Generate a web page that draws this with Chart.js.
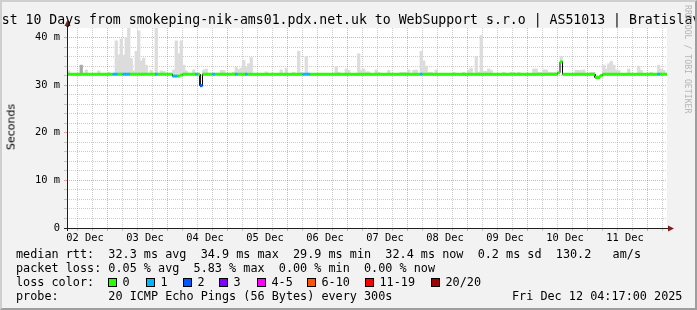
<!DOCTYPE html>
<html>
<head>
<meta charset="utf-8">
<title>smokeping 10 days</title>
<script src="https://cdn.jsdelivr.net/npm/chart.js@4.4.1/dist/chart.umd.min.js"></script>
<style>
  html, body { margin: 0; padding: 0; background: #f2f2f2; }
  #frame { position: relative; width: 697px; height: 310px; overflow: hidden; background: #f2f2f2;
           font-family: 'DejaVu Sans Mono', monospace; color: #000; }
  #frame canvas { position: absolute; left: 0; top: 0; }
  .shade { position: absolute; left: 0; top: 0; width: 697px; height: 310px; box-sizing: border-box;
           border: 2px solid; border-color: #cfcfcf #9e9e9e #9e9e9e #cfcfcf; pointer-events: none; }
  .title { position: absolute; left: -14.2px; top: 12px; font-size: 13.2px; line-height: 15px; white-space: pre; }
  .ytitle { position: absolute; left: 11px; top: 127px; font-family: 'DejaVu Sans', sans-serif; font-size: 11px;
            color: #000; transform: translate(-50%, -50%) rotate(-90deg); white-space: nowrap; }
  .stamp { position: absolute; left: 692px; top: 5px; font-size: 8.2px; line-height: 9px; color: #b4b4b4;
           transform-origin: 0 0; transform: rotate(90deg); white-space: pre; }
  .row { position: absolute; left: 16px; font-size: 11.8px; line-height: 14px; white-space: pre; }
  .sw { position: absolute; top: 278px; width: 9px; height: 9px; box-sizing: border-box; border: 1px solid #000; }
</style>
</head>
<body>
<div id="frame">
  <canvas id="chart" width="697" height="310"></canvas>
  <div class="title">Last 10 Days from smokeping-nik-ams01.pdx.net.uk to WebSupport s.r.o | AS51013 | Bratislava</div>
  <div class="ytitle">Seconds</div>
  <div class="stamp">RRDTOOL / TOBI OETIKER</div>
  <div class="row" style="top:247px">median rtt:  32.3 ms avg  34.9 ms max  29.9 ms min  32.4 ms now  0.2 ms sd  130.2   am/s</div>
  <div class="row" style="top:261px">packet loss: 0.05 % avg  5.83 % max  0.00 % min  0.00 % now</div>
  <div class="row" style="top:275px">loss color:</div>
  <div id="losskey"></div>
  <div class="row" style="top:289px">probe:       20 ICMP Echo Pings (56 Bytes) every 300s</div>
  <div class="row" style="top:289px; left:512px">Fri Dec 12 04:17:00 2025</div>
  <div class="shade"></div>
</div>
<script>
// x axis is in hours after 02 Dec 00:00, one smoke/median slot per hour
const dayLabels = ['02 Dec', '03 Dec', '04 Dec', '05 Dec', '06 Dec', '07 Dec', '08 Dec', '09 Dec', '10 Dec', '11 Dec'];
const yTickValues = [0, 10, 20, 30, 40];
const yTickLabels = ['0', '10 m', '20 m', '30 m', '40 m'];

// median rtt (ms): flat value, plus the slots where it moved
const baseMedian = 32.3;
const medianSlot = [47, 48, 49, 50, 58, 201, 202, 216, 217, 218];
const medianValue = [31.9, 31.9, 31.9, 32.1, 29.9, 32.6, 34.9, 31.6, 31.6, 32.0];

// slots with packet loss (index into lossColors)
const lossSlot = [23, 24, 27, 28, 29, 40, 47, 48, 56, 58, 63, 72, 76, 99, 100, 101, 146, 241];
const lossLevel = [1, 1, 1, 1, 1, 1, 1, 1, 1, 2, 1, 1, 1, 1, 1, 1, 1, 1];

// smoke: highest ping in each slot (ms)
const smokeSlot = [5, 12, 17, 21, 24, 25, 26, 27, 28, 29, 30, 31, 32, 33, 34, 35, 36, 38, 40, 42, 43,
  47, 48, 49, 50, 51, 52, 55, 59, 60, 66, 67, 71, 72, 73, 74, 75, 76, 77, 78, 84, 90, 92, 95, 97, 98, 100,
  112, 113, 116, 117, 121, 122, 123, 124, 125, 128, 129, 133, 138, 139, 140, 141, 143, 144, 146, 147, 148,
  149, 150, 152, 159, 163, 165, 166, 168, 169, 170, 171, 172, 173, 174, 179, 182, 183, 185, 191, 192, 193,
  194, 195, 196, 197, 198, 199, 200, 202, 208, 209, 210, 211, 214, 215, 219, 220, 221, 222, 223, 224, 225,
  229, 233, 234, 238, 241, 242, 243];
const smokeTop = [33.0, 33.2, 33.0, 32.7, 39.3, 36.4, 39.7, 36.3, 40.0, 42.0, 35.6, 33.0, 37.1, 41.4, 35.1, 35.7, 34.2, 33.1, 42.0, 33.0, 32.9,
  33.2, 39.3, 36.6, 39.3, 34.2, 33.0, 33.2, 33.2, 33.4, 33.1, 33.1, 32.7, 33.8, 33.3, 33.6, 35.2, 33.8, 34.5, 35.8, 32.8, 33.2, 33.6, 32.7, 37.1, 32.7, 36.0,
  33.9, 32.7, 33.4, 33.1, 36.6, 33.1, 33.4, 32.8, 32.8, 33.2, 32.7, 33.1, 32.7, 32.7, 32.7, 33.2, 33.1, 33.2, 37.1, 35.1, 34.0,
  32.7, 32.7, 33.2, 32.7, 32.7, 33.2, 33.6, 36.0, 32.7, 40.4, 32.9, 32.9, 33.4, 33.1, 32.7, 32.7, 32.7, 32.7, 33.4, 33.4, 32.7,
  32.7, 33.2, 33.2, 32.7, 32.7, 32.7, 32.7, 36.0, 33.1, 33.1, 33.1, 33.2, 32.7, 32.7, 34.2, 33.4, 34.5, 35.0, 34.2, 33.2, 33.1,
  33.4, 34.0, 33.1, 32.7, 34.2, 33.3, 33.1];
// denser smoke
const darkSlot = [10];
const darkTop = [34.2];

const lossLabels = ['0', '1', '2', '3', '4-5', '6-10', '11-19', '20/20'];
const lossColors = ['#26ff00', '#00b8ff', '#0059ff', '#7e00ff', '#ff00ff', '#ff5500', '#ff0000', '#a10000'];

const GRID = 'rgba(143, 143, 143, 0.45)';
const MGRID = 'rgba(222, 79, 79, 0.5)';
const AXIS = '#1f1f1f';
const ARROW = '#801f1f';
const FONT = "'DejaVu Sans Mono', monospace";
const FIRST_SLOT = 4, LAST_SLOT = 244;

function medianAt(k) { const i = medianSlot.indexOf(k); return i < 0 ? baseMedian : medianValue[i]; }
function lossAt(k) { const i = lossSlot.indexOf(k); return i < 0 ? 0 : lossLevel[i]; }

// join equal slots into runs
const runs = [];
for (let k = FIRST_SLOT; k <= LAST_SLOT; k++) {
    const m = medianAt(k), l = lossAt(k);
    const last = runs[runs.length - 1];
    if (last && last.m === m && last.l === l) last.end = k + 1;
    else runs.push({ start: k, end: k + 1, m, l });
}
const linePts = [], lineLoss = [], stepPts = [];
runs.forEach((r, i) => {
    linePts.push({ x: r.start, y: r.m }, { x: r.end, y: r.m });
    lineLoss.push(r.l, r.l);
    const next = runs[i + 1];
    if (next && next.m !== r.m) { linePts.push({ x: r.end, y: null }); lineLoss.push(r.l); }
    stepPts.push({ x: r.start, y: r.m }, { x: r.end, y: r.m });
});
const smokePts = smokeSlot.map((k, i) => ({ x: k + 0.5, y: [medianAt(k), smokeTop[i]] }));
const darkPts = darkSlot.map((k, i) => ({ x: k + 0.5, y: [medianAt(k), darkTop[i]] }));

// loss colour key
const swatchX = [108, 146, 183, 219, 257, 307, 365, 431];
const key = document.getElementById('losskey');
lossLabels.forEach((lab, i) => {
    const sw = document.createElement('div');
    sw.className = 'sw';
    sw.style.left = swatchX[i] + 'px';
    sw.style.background = lossColors[i];
    key.appendChild(sw);
    const t = document.createElement('div');
    t.className = 'row';
    t.style.top = '275px';
    t.style.left = (swatchX[i] + 14.5) + 'px';
    t.textContent = lab;
    key.appendChild(t);
});

// white canvas, axes and arrows like rrdtool
const plotDecor = {
    id: 'plotDecor',
    beforeDraw(chart) {
        const { ctx, chartArea: a } = chart;
        ctx.save();
        ctx.fillStyle = '#ffffff';
        ctx.fillRect(a.left, a.top, a.right - a.left, a.bottom - a.top);
        ctx.restore();
    },
    afterDraw(chart) {
        const { ctx, chartArea: a } = chart;
        const x0 = a.left + 0.5, y0 = a.bottom + 0.5;
        ctx.save();
        ctx.strokeStyle = AXIS;
        ctx.lineWidth = 1;
        ctx.beginPath();
        ctx.moveTo(x0, a.bottom + 3); ctx.lineTo(x0, a.top - 3);
        ctx.moveTo(a.left - 3, y0); ctx.lineTo(a.right + 4, y0);
        ctx.stroke();
        ctx.fillStyle = ARROW;
        ctx.beginPath();
        ctx.moveTo(x0, a.top - 8); ctx.lineTo(x0 + 3, a.top - 2); ctx.lineTo(x0 - 3, a.top - 2);
        ctx.closePath(); ctx.fill();
        ctx.beginPath();
        ctx.moveTo(a.right + 7, y0); ctx.lineTo(a.right + 1, y0 - 3); ctx.lineTo(a.right + 1, y0 + 3);
        ctx.closePath(); ctx.fill();
        ctx.restore();
    }
};

new Chart(document.getElementById('chart'), {
    type: 'bar',
    data: {
        datasets: [
            {
                type: 'line', data: linePts, order: 0,
                borderColor: lossColors[0], borderWidth: 3, borderCapStyle: 'butt',
                pointRadius: 0, spanGaps: false, tension: 0,
                segment: { borderColor: c => lossColors[lineLoss[c.p0DataIndex]] }
            },
            { type: 'line', data: stepPts, order: 1, borderColor: '#000000', borderWidth: 1, pointRadius: 0, tension: 0 },
            { type: 'bar', data: darkPts, order: 2, backgroundColor: '#a9a9a9', barThickness: 2.6, grouped: false },
            { type: 'bar', data: smokePts, order: 3, backgroundColor: '#dcdcdc', barThickness: 2.6, grouped: false }
        ]
    },
    options: {
        responsive: false,
        animation: false,
        layout: { padding: { left: 0, top: 28, right: 30, bottom: 68 } },
        plugins: { legend: { display: false }, tooltip: { enabled: false } },
        scales: {
            x: {
                type: 'linear', min: 4.8, max: 244.8, offset: false,
                afterBuildTicks: s => { s.ticks = []; for (let h = 6; h <= 240; h += 6) s.ticks.push({ value: h }); },
                afterFit: s => { s.height = 14; },
                ticks: {
                    autoSkip: false, maxRotation: 0, padding: 1, color: '#000', font: { family: FONT, size: 10.4 },
                    callback: v => { const i = (v - 12) / 24; return Number.isInteger(i) && dayLabels[i] ? dayLabels[i] : ''; }
                },
                grid: {
                    color: c => (c.tick && c.tick.value % 24 === 0) ? MGRID : GRID,
                    tickColor: c => (c.tick && c.tick.value % 24 === 0) ? MGRID : GRID,
                    lineWidth: 1, tickLength: 3
                },
                border: { display: false, dash: [1, 1] }
            },
            y: {
                min: 0, max: 42,
                afterBuildTicks: s => { s.ticks = []; for (let v = 0; v <= 40; v += 2) s.ticks.push({ value: v }); },
                afterFit: s => { s.width = 67; },
                ticks: {
                    autoSkip: false, padding: 4, color: '#000', font: { family: FONT, size: 10.4 },
                    callback: v => { const i = yTickValues.indexOf(v); return i < 0 ? '' : yTickLabels[i]; }
                },
                grid: {
                    color: c => (c.tick && c.tick.value % 10 === 0) ? MGRID : GRID,
                    tickColor: c => (c.tick && c.tick.value % 10 === 0) ? MGRID : GRID,
                    lineWidth: 1, tickLength: 3
                },
                border: { display: false, dash: [1, 1] }
            }
        }
    },
    plugins: [plotDecor]
});
</script>
</body>
</html>
